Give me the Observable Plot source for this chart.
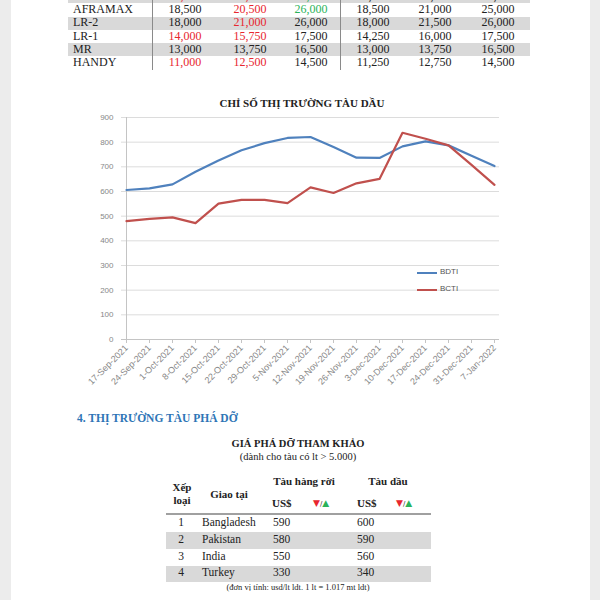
<!DOCTYPE html>
<html><head><meta charset="utf-8">
<script src="https://cdn.jsdelivr.net/npm/d3@7"></script>
<script src="https://cdn.jsdelivr.net/npm/@observablehq/plot@0.6"></script>
<style>
html,body{margin:0;padding:0;}
body{width:600px;height:600px;overflow:hidden;position:relative;background:#ececec;font-family:"Liberation Serif","Times New Roman",serif;color:#222;}
#page{position:absolute;left:11px;top:0;width:579px;height:600px;background:#fff;}
.a{position:absolute;white-space:nowrap;}
</style></head><body>
<div id="page"></div>
<div id="root"></div>
<script>
// ---------- top table (charter rates) ----------
const vessels = ["SUEZMAX","AFRAMAX","LR-2","LR-1","MR","HANDY"];
const rateCols = [
  ["19,000","18,500","18,000","14,000","13,000","11,000"],
  ["22,500","20,500","21,000","15,750","13,750","12,500"],
  ["27,000","26,000","26,000","17,500","16,500","14,500"],
  ["19,500","18,500","18,000","14,250","13,000","11,250"],
  ["22,000","21,000","21,500","16,000","13,750","12,750"],
  ["27,000","25,000","26,000","17,500","16,500","14,500"]
];
// change vs previous week: -1 down (red), 1 up (green), 0 unchanged
const rateChange = [
  [-1,0,0,-1,0,-1],
  [-1,-1,-1,-1,0,-1],
  [1,1,0,0,0,0],
  [0,0,0,0,0,0],
  [0,0,0,0,0,0],
  [0,0,0,0,0,0]
];

// ---------- chart ----------
const chartTitle = "CHỈ SỐ THỊ TRƯỜNG TÀU DẦU";
const dates = ["17-Sep-2021","24-Sep-2021","1-Oct-2021","8-Oct-2021","15-Oct-2021","22-Oct-2021","29-Oct-2021","5-Nov-2021","12-Nov-2021","19-Nov-2021","26-Nov-2021","3-Dec-2021","10-Dec-2021","17-Dec-2021","24-Dec-2021","31-Dec-2021","7-Jan-2022"];
const bdti = [606,613,629,680,726,767,796,817,821,780,737,736,783,803,787,745,703];
const bcti = [480,489,495,472,551,566,566,553,617,594,633,651,838,814,787,708,627];
const seriesNames = ["BDTI","BCTI"];
const yTicks = [0,100,200,300,400,500,600,700,800,900];

// ---------- demolition table ----------
const sectionHeading = "4. THỊ TRƯỜNG TÀU PHÁ DỠ";
const demoTitle = "GIÁ PHÁ DỠ THAM KHẢO";
const demoSubtitle = "(dành cho tàu có lt > 5.000)";
const ranks = ["1","2","3","4"];
const countries = ["Bangladesh","Pakistan","India","Turkey"];
const bulkPrice = ["590","580","550","330"];
const tankerPrice = ["600","590","560","340"];
const demoNote = "(đơn vị tính: usd/lt ldt. 1 lt = 1.017 mt ldt)";

const root = document.getElementById("root");
function put(text, x, y, opts = {}) {
  const d = document.createElement("div");
  d.className = "a";
  d.textContent = text;
  const fs = opts.size || 12;
  d.style.fontSize = fs + "px";
  d.style.lineHeight = fs + "px";
  d.style.top = (y - fs / 2 - 1) + "px";
  if (opts.anchor === "middle") { d.style.left = x + "px"; d.style.transform = "translateX(-50%)"; }
  else if (opts.anchor === "end") { d.style.right = (600 - x) + "px"; }
  else d.style.left = x + "px";
  if (opts.bold) d.style.fontWeight = "bold";
  if (opts.color) d.style.color = opts.color;
  if (opts.family) d.style.fontFamily = opts.family;
  root.appendChild(d);
  return d;
}
function box(x, y, w, h, bg) {
  const d = document.createElement("div");
  d.className = "a";
  Object.assign(d.style, {left: x + "px", top: y + "px", width: w + "px", height: h + "px", background: bg});
  root.appendChild(d);
}

// top table
const rowH = 13.3, row0 = -10;
const colX = [185, 250, 311, 373, 435, 498];
vessels.forEach((v, i) => {
  const top = row0 + i * rowH;
  if (i % 2 === 0) box(68, top, 462, rowH, "#d9d9d9");
});
box(152, 0, 1, 70, "#8a8a8a");
box(340, 0, 1, 70, "#8a8a8a");
vessels.forEach((v, i) => {
  const cy = row0 + i * rowH + rowH / 2;
  put(v, 73, cy, {size: 12});
  rateCols.forEach((col, c) => {
    const ch = rateChange[c][i];
    put(col[i], colX[c], cy, {size: 12, anchor: "middle", color: ch < 0 ? "#e8262f" : ch > 0 ? "#2bb35a" : "#222"});
  });
});

// chart title
put(chartTitle, 302, 104, {size: 11, bold: true, anchor: "middle"});

// chart
const rows = dates.flatMap((d, i) => [
  {date: d, series: seriesNames[0], value: bdti[i]},
  {date: d, series: seriesNames[1], value: bcti[i]}
]);
const chart = Plot.plot({
  width: 450, height: 290,
  marginLeft: 61, marginRight: 11, marginTop: 7, marginBottom: 61,
  style: {fontFamily: "'Liberation Sans', Arial, sans-serif", fontSize: "8px", color: "#888", background: "transparent", overflow: "visible"},
  x: {type: "point", domain: dates, padding: 0, label: null},
  y: {domain: [0, 900], label: null},
  color: {domain: seriesNames, range: ["#4f81bd", "#c0504d"]},
  marks: [
    Plot.gridY(yTicks, {stroke: "#dcdcdc", strokeOpacity: 1}),
    Plot.ruleX([dates[0]], {stroke: "#c4c4c4"}),
    Plot.ruleY([0], {stroke: "#c4c4c4"}),
    Plot.axisY(yTicks, {tickSize: 0, tickPadding: 8, label: null, fill: "#888"}),
    Plot.axisX({tickRotate: -45, tickSize: 4, tickPadding: 3, stroke: "#c4c4c4", fill: "#888", label: null, fontSize: 9}),
    Plot.lineY(rows, {x: "date", y: "value", z: "series", stroke: "series", strokeWidth: 2.2})
  ]
});
chart.style.position = "absolute";
chart.style.left = "60px";
chart.style.top = "110px";
root.appendChild(chart);

// legend
const legendColors = ["#4f81bd", "#c0504d"];
seriesNames.forEach((s, i) => {
  const y = 273 + i * 17;
  box(417, y - 1, 20, 2, legendColors[i]);
  put(s, 440, y, {size: 8, color: "#555", family: "'Liberation Sans', Arial, sans-serif"});
});

// section heading
put(sectionHeading, 77, 420, {size: 11.5, bold: true, color: "#2e75b6"});
put(demoTitle, 298, 445, {size: 10.5, bold: true, anchor: "middle"});
put(demoSubtitle, 298, 458, {size: 10.5, anchor: "middle"});

// demolition table header
put("Xếp", 182, 488, {size: 11, bold: true, anchor: "middle"});
put("loại", 182, 501, {size: 11, bold: true, anchor: "middle"});
put("Giao tại", 229, 495, {size: 11, bold: true, anchor: "middle"});
put("Tàu hàng rời", 304, 482, {size: 11, bold: true, anchor: "middle"});
put("Tàu dầu", 388, 482, {size: 11, bold: true, anchor: "middle"});
[[272, 313], [357, 396]].forEach(([ux, ax]) => {
  put("US$", ux, 504, {size: 11, bold: true});
  const a = document.createElement("div");
  a.className = "a";
  a.style.left = ax + "px"; a.style.top = "498px";
  a.style.fontFamily = "'DejaVu Sans', sans-serif";
  a.style.fontSize = "9px"; a.style.lineHeight = "10px";
  a.innerHTML = '<span style="color:#e8262f">▼</span><span style="font-size:7px;color:#333">/</span><span style="color:#2bb35a">▲</span>';
  root.appendChild(a);
});
box(166, 513, 265, 2, "#a0a0a0");
ranks.forEach((r, i) => {
  const cy = 524 + i * 16.7;
  if (i % 2 === 1) box(166, cy - 8.3, 265, 16.7, "#d9d9d9");
});
ranks.forEach((r, i) => {
  const cy = 524 + i * 16.7;
  put(r, 181, cy, {size: 11.5, anchor: "middle"});
  put(countries[i], 202, cy, {size: 11.5});
  put(bulkPrice[i], 273, cy, {size: 11.5});
  put(tankerPrice[i], 357, cy, {size: 11.5});
});
put(demoNote, 298, 588, {size: 8.5, anchor: "middle"});
</script>
</body></html>
